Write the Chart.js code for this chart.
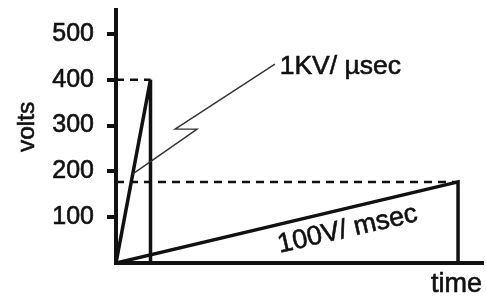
<!DOCTYPE html>
<html>
<head>
<meta charset="utf-8">
<script src="https://cdn.jsdelivr.net/npm/chart.js@4/dist/chart.umd.min.js"></script>
<style>
html,body{margin:0;padding:0;background:#fff;}
#wrap{width:486px;height:297px;}
</style>
</head>
<body>
<div id="wrap"><canvas id="c" width="486" height="297"></canvas></div>
<script>
// ---- data ----
const yTickValues = [100, 200, 300, 400, 500];
const fastPulse = [{x:0,y:0},{x:9.4,y:400},{x:9.4,y:0}];        // 1KV/µsec ramp
const slowPulse = [{x:0,y:0},{x:93.2,y:177},{x:93.2,y:0}];      // 100V/msec ramp
const fastPeakGuide = [{x:0,y:400},{x:9.4,y:400}];
const slowPeakGuide = [{x:0,y:177},{x:93.2,y:177}];
const pointerLine = [{x:43.3,y:434},{x:16.1,y:292},{x:22.1,y:292},{x:4.5,y:194}];
const labelFast = {text:'1KV/ \u00b5sec', x:44.6, y:428};
const labelSlow = {text:'100V/ msec', x:63.1, y:73};
const yTitle = 'volts';
const xTitle = 'time';

const FONT = '"Liberation Sans", Arial, Helvetica, sans-serif';
const INK = '#111';

function inkText(ctx, t, x, y) {
  ctx.fillText(t, x, y);
  ctx.strokeText(t, x, y);
}

const textPlugin = {
  id: 'texts',
  afterDraw(chart) {
    const ctx = chart.ctx, xs = chart.scales.x, ys = chart.scales.y, a = chart.chartArea;
    ctx.save();
    ctx.fillStyle = INK; ctx.strokeStyle = INK; ctx.lineWidth = 0.6;
    // fast label
    ctx.font = '26.5px ' + FONT;
    ctx.textAlign = 'left'; ctx.textBaseline = 'middle';
    inkText(ctx, labelFast.text, xs.getPixelForValue(labelFast.x), ys.getPixelForValue(labelFast.y));
    // slow label rotated along ramp
    ctx.save();
    ctx.font = '27px ' + FONT;
    ctx.translate(xs.getPixelForValue(labelSlow.x), ys.getPixelForValue(labelSlow.y));
    ctx.rotate(-13 * Math.PI / 180);
    ctx.textAlign = 'center';
    inkText(ctx, labelSlow.text, 0, 0);
    ctx.restore();
    // y title
    ctx.save();
    ctx.font = '24.5px ' + FONT;
    ctx.translate(a.left - 89, ys.getPixelForValue(297));
    ctx.rotate(-Math.PI / 2);
    ctx.textAlign = 'center'; ctx.textBaseline = 'middle';
    inkText(ctx, yTitle, 0, 0);
    ctx.restore();
    // x title
    ctx.font = '27px ' + FONT;
    ctx.textAlign = 'right'; ctx.textBaseline = 'middle';
    inkText(ctx, xTitle, a.right - 1, a.bottom + 22);
    ctx.restore();
  }
};

const lineDs = (data, w, color, dash) => ({
  data, borderColor: color, borderWidth: w, borderDash: dash || [],
  pointRadius: 0, tension: 0, fill: false, borderCapStyle: 'butt', borderJoinStyle: 'miter'
});

new Chart(document.getElementById('c'), {
  type: 'line',
  data: {
    datasets: [
      lineDs(fastPeakGuide, 2.5, INK, [8, 6]),
      lineDs(slowPeakGuide, 2.5, INK, [8, 6]),
      lineDs(pointerLine, 1.4, '#333'),
      lineDs(fastPulse, 3.5, INK),
      lineDs(slowPulse, 3.5, INK)
    ]
  },
  options: {
    responsive: false,
    animation: false,
    layout: { padding: { top: 10, right: 3, left: 0, bottom: 0 } },
    plugins: { legend: { display: false }, tooltip: { enabled: false } },
    scales: {
      x: {
        type: 'linear', min: 0, max: 100,
        ticks: { display: false },
        grid: { display: false },
        border: { display: true, width: 4, color: INK },
        afterFit(s) { s.height = 34; s.paddingLeft = 0; s.paddingRight = 0; }
      },
      y: {
        type: 'linear', min: 0, max: 552,
        afterBuildTicks(s) { s.ticks = yTickValues.map(v => ({ value: v })); },
        ticks: { color: INK, font: { family: FONT, size: 25 }, padding: 13, textStrokeColor: INK, textStrokeWidth: 0.6 },
        grid: { display: true, drawOnChartArea: false, drawTicks: true, tickLength: 9, lineWidth: 4, color: INK },
        border: { display: true, width: 4, color: INK },
        afterFit(s) { s.width = 116; s.paddingTop = 0; s.paddingBottom = 0; }
      }
    }
  },
  plugins: [textPlugin]
});
</script>
</body>
</html>
